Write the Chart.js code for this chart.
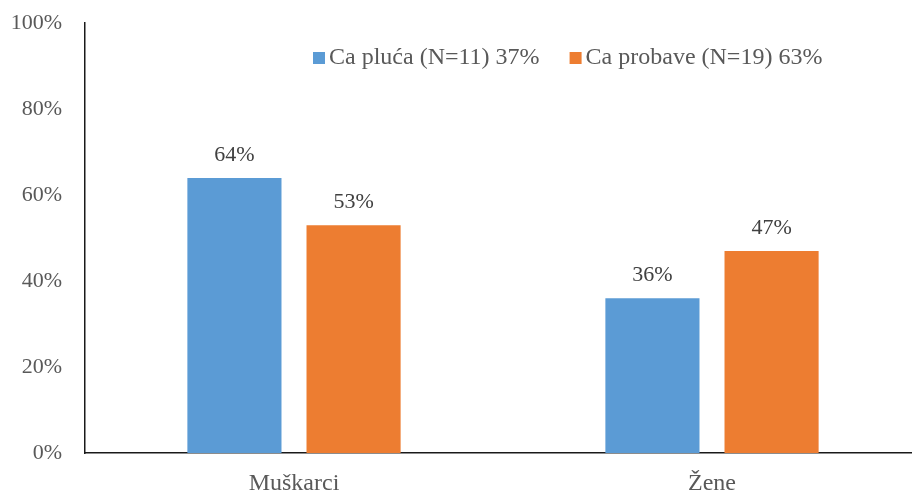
<!DOCTYPE html>
<html>
<head>
<meta charset="utf-8">
<script src="https://cdn.jsdelivr.net/npm/chart.js@4"></script>
<style>
  html, body { margin: 0; padding: 0; overflow: hidden; background: #fff; }
  #wrap { width: 921px; height: 495px; margin-top: -5px; position: relative; }
</style>
</head>
<body>
<div id="wrap"><canvas id="genderChart"></canvas></div>
<script>
// data
const categories = ['Muškarci', 'Žene'];
const seriesNames = ['Ca pluća (N=11) 37%', 'Ca probave (N=19) 63%'];
const lungValues = [64, 36];
const digestiveValues = [53, 47];
const yTicks = [0, 20, 40, 60, 80, 100];

const textGrey = '#595959';
const serif = "'Liberation Serif', 'Times New Roman', serif";

// value labels above each bar
const barLabels = {
  id: 'barLabels',
  afterDatasetsDraw(chart) {
    const ctx = chart.ctx;
    ctx.save();
    ctx.font = '22px ' + serif;
    ctx.fillStyle = '#404040';
    ctx.textAlign = 'center';
    ctx.textBaseline = 'middle';
    chart.data.datasets.forEach((ds, i) => {
      chart.getDatasetMeta(i).data.forEach((bar, j) => {
        ctx.fillText(ds.data[j] + '%', bar.x, bar.y - 23);
      });
    });
    ctx.restore();
  }
};

// one-row legend inside the plot area
const innerLegend = {
  id: 'innerLegend',
  afterDraw(chart, args, opts) {
    const ctx = chart.ctx;
    ctx.save();
    ctx.font = '24px ' + serif;
    ctx.textBaseline = 'middle';
    ctx.textAlign = 'left';
    let x = opts.x;
    const y = opts.y;
    chart.data.datasets.forEach(ds => {
      ctx.fillStyle = ds.backgroundColor;
      ctx.fillRect(x, y - 6, 12, 12);
      ctx.fillStyle = textGrey;
      ctx.fillText(ds.label, x + 16, y);
      x += 16 + ctx.measureText(ds.label).width + 30;
    });
    ctx.restore();
  }
};

new Chart(document.getElementById('genderChart'), {
  type: 'bar',
  data: {
    labels: categories,
    datasets: [
      { label: seriesNames[0], data: lungValues, backgroundColor: '#5B9BD5' },
      { label: seriesNames[1], data: digestiveValues, backgroundColor: '#ED7D31' }
    ]
  },
  options: {
    responsive: true,
    maintainAspectRatio: false,
    animation: false,
    categoryPercentage: 0.57,
    barPercentage: 0.79,
    layout: { padding: 0 },
    plugins: {
      tooltip: { enabled: false },
      legend: { display: false },
      innerLegend: { x: 313, y: 63 }
    },
    scales: {
      x: {
        grid: { display: false },
        border: { display: true, color: '#1a1a1a', width: 1.5 },
        ticks: { color: textGrey, font: { family: serif, size: 24 }, padding: 8 },
        afterFit(scale) { scale.height = 37; }
      },
      y: {
        min: 0,
        max: 100,
        grid: { display: false },
        border: { display: true, color: '#1a1a1a', width: 1.5 },
        afterBuildTicks(scale) { scale.ticks = yTicks.map(v => ({ value: v })); },
        ticks: {
          color: textGrey,
          font: { family: serif, size: 22 },
          padding: 15,
          callback: v => v + '%'
        },
        afterFit(scale) { scale.width = 85; }
      }
    }
  },
  plugins: [barLabels, innerLegend]
});
</script>
</body>
</html>
